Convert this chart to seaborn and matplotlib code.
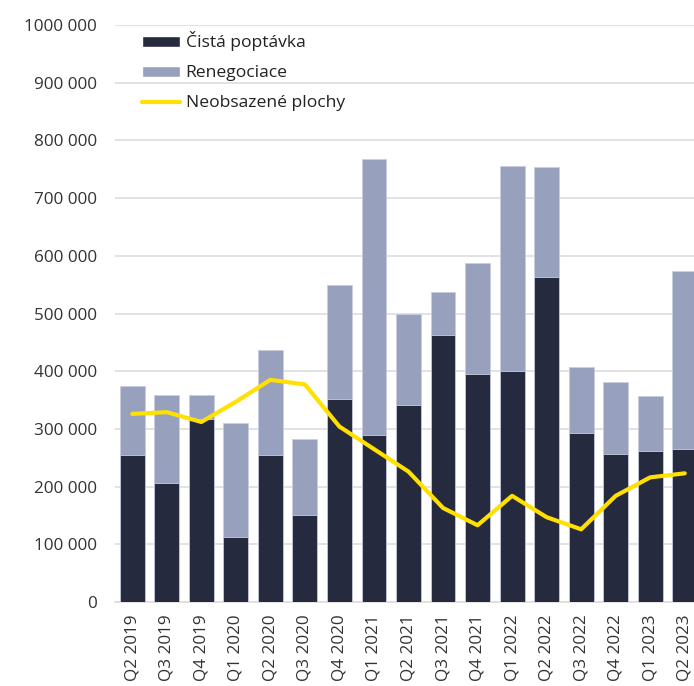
import numpy as np
import matplotlib
matplotlib.use("Agg")
import matplotlib.pyplot as plt
import seaborn as sns
from matplotlib.patches import Patch
from matplotlib.lines import Line2D
from matplotlib.ticker import FuncFormatter, MultipleLocator

# ---------------------------------------------------
# Data
# ---------------------------------------------------
quarters = ["Q2 2019", "Q3 2019", "Q4 2019", "Q1 2020", "Q2 2020", "Q3 2020",
            "Q4 2020", "Q1 2021", "Q2 2021", "Q3 2021", "Q4 2021", "Q1 2022",
            "Q2 2022", "Q3 2022", "Q4 2022", "Q1 2023", "Q2 2023"]
net_demand = [255000, 207000, 318000, 113000, 255000, 150000, 352000, 289000,
              341000, 463000, 395000, 401000, 564000, 293000, 256000, 262000, 266000]
renegotiations = [120000, 151000, 41000, 198000, 181000, 132000, 197000, 479000,
                  158000, 75000, 193000, 355000, 190000, 114000, 126000, 95000, 308000]
vacant = [326000, 329000, 312000, 347000, 385000, 377000, 304000, 265000,
          226000, 163000, 133000, 184000, 147000, 126000, 184000, 216000, 223000]

labels = ["Čistá poptávka", "Renegociace", "Neobsazené plochy"]
c_dark = "#262A3E"
c_light = "#97A0BD"
c_line = "#FFE000"

total = [a + b for a, b in zip(net_demand, renegotiations)]

# ---------------------------------------------------
# Plot
# ---------------------------------------------------
sns.set_style("white")
plt.rcParams["font.family"] = ["Open Sans", "DejaVu Sans"]

fig = plt.figure(figsize=(6.94, 6.86), dpi=100)
ax = fig.add_axes([115 / 694, 84 / 686, 587 / 694, 577 / 686])

sns.barplot(x=quarters, y=total, color=c_light, width=0.72, saturation=1,
            edgecolor="#C9CEDF", linewidth=0.6, ax=ax, zorder=2)
sns.barplot(x=quarters, y=net_demand, color=c_dark, width=0.72, saturation=1,
            edgecolor="#C9CEDF", linewidth=0.6, ax=ax, zorder=3)
sns.lineplot(x=np.arange(len(quarters)), y=vacant, color=c_line, linewidth=3,
             sort=False, ax=ax, zorder=4)

ax.set_xlim(-0.5, len(quarters) - 0.5)
ax.set_ylim(0, 1000000)
ax.yaxis.set_major_locator(MultipleLocator(100000))


def fmt(v, pos):
    v = int(round(v))
    if v == 0:
        return "0"
    return f"{v // 1000} {v % 1000:03d}"


ax.yaxis.set_major_formatter(FuncFormatter(fmt))
ax.grid(axis="y", color="#DDDDDD", linewidth=1.2, zorder=0)
ax.set_axisbelow(True)
for s in ["top", "right", "left"]:
    ax.spines[s].set_visible(False)
ax.spines["bottom"].set_color("#DDDDDD")
ax.spines["bottom"].set_linewidth(1.2)

ax.tick_params(axis="y", length=0, pad=13, labelsize=12.3, labelcolor="#333333")
ax.tick_params(axis="x", length=0, pad=9, labelsize=12.3, labelcolor="#333333",
               rotation=90)
ax.set_xlabel("")
ax.set_ylabel("")

handles = [Patch(facecolor=c_dark), Patch(facecolor=c_light),
           Line2D([0], [0], color=c_line, linewidth=3)]
ax.legend(handles, labels, loc="upper left", bbox_to_anchor=(0.031, 1.004),
          frameon=False, fontsize=12.6, borderpad=0, labelspacing=0.8,
          handlelength=2.2, handleheight=0.6, handletextpad=0.3,
          labelcolor="#222222")

fig.savefig("out.png", dpi=100)
